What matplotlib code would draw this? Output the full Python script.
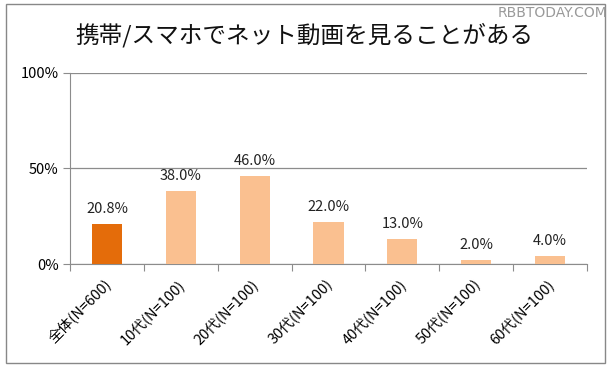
import matplotlib
matplotlib.use('Agg')
import matplotlib.pyplot as plt
from matplotlib.patches import Rectangle

plt.rcParams['font.family'] = ['Noto Sans CJK JP', 'DejaVu Sans']

title = '携帯/スマホでネット動画を見ることがある'
categories = ['全体(N=600)', '10代(N=100)', '20代(N=100)', '30代(N=100)',
              '40代(N=100)', '50代(N=100)', '60代(N=100)']
values = [20.8, 38.0, 46.0, 22.0, 13.0, 2.0, 4.0]
colors = ['#E46C0A'] + ['#FAC090'] * 6

fig = plt.figure(figsize=(6.12, 3.71), dpi=100)
ax = fig.add_axes([0.1144, 0.2884, 0.8447, 0.5156])

x = range(len(categories))
ax.bar(x, values, width=0.41, color=colors, zorder=3)
for i, v in enumerate(values):
    ax.annotate(f'{v:.1f}%', (i, v), xytext=(0, 6), textcoords='offset points',
                ha='center', va='bottom', fontsize=10.5, color='#222222')

ax.set_xlim(-0.5, len(categories) - 0.5)
ax.set_ylim(0, 100)
ax.set_yticks([0, 50, 100])
ax.set_yticklabels(['0%', '50%', '100%'], fontsize=10.5)
ax.yaxis.grid(True, color='#8c8c8c', lw=0.9, zorder=0)

ax.set_xticks([i - 0.5 for i in range(len(categories) + 1)])
ax.set_xticklabels([])
ax.set_xticks([i - 0.05 for i in x], minor=True)
ax.set_xticklabels(categories, minor=True, rotation=45, ha='right',
                   rotation_mode='anchor', fontsize=10.5)
ax.tick_params(axis='x', which='minor', length=0, pad=9)
ax.tick_params(axis='x', which='major', length=5, color='#8c8c8c')
ax.tick_params(axis='y', length=5, color='#8c8c8c', pad=3)

for s in ['top', 'right']:
    ax.spines[s].set_visible(False)
ax.spines['left'].set_color('#8c8c8c')
ax.spines['bottom'].set_color('#8c8c8c')

fig.text(0.4975, 0.906, title, ha='center', va='center', fontsize=17, color='#111111')
fig.text(0.993, 0.965, 'RBBTODAY.COM', ha='right', va='center', fontsize=10,
         color='#9a9a9a', family=['DejaVu Sans'])

fig.patches.append(Rectangle((0.0098, 0.0216), 0.978, 0.967, transform=fig.transFigure,
                             fill=False, edgecolor='#888888', lw=1.0))

fig.savefig('out.png', dpi=100)
